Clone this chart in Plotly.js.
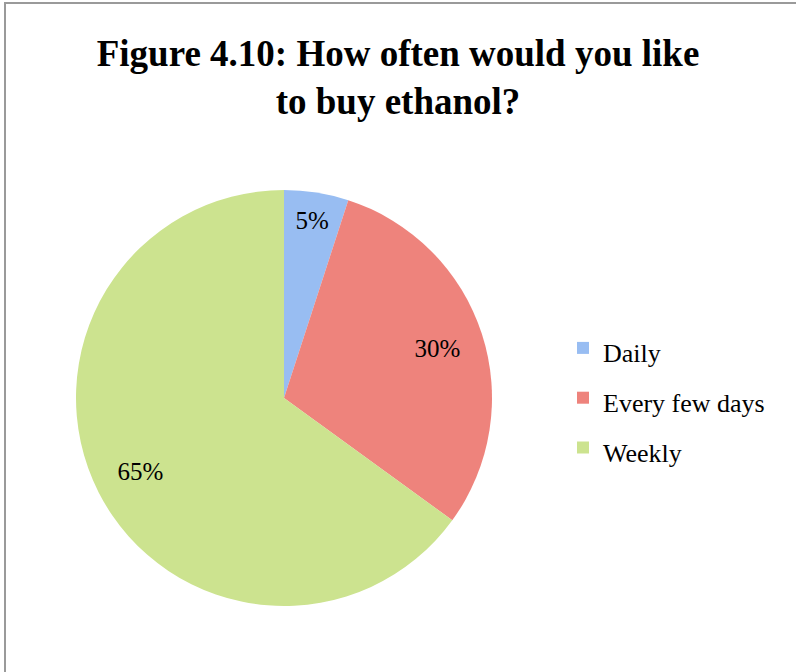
<!DOCTYPE html>
<html>
<head>
<meta charset="utf-8">
<script src="https://cdn.plot.ly/plotly-3.0.1.min.js"></script>
<style>
  html, body { margin: 0; padding: 0; background: #ffffff; }
  #frame { position: absolute; left: 4px; top: 2px; width: 800px; height: 680px;
           border-left: 2px solid #9a9a9a; border-top: 2px solid #9a9a9a; box-sizing: border-box; }
  #chart { position: absolute; left: 0; top: 0; width: 796px; height: 672px; }
</style>
</head>
<body>
<div id="frame"></div>
<div id="chart"></div>
<script>
const titleText = "Figure 4.10: How often would you like<br>to buy ethanol?";
const categories = ["Daily", "Every few days", "Weekly"];
const values = [5, 30, 65];
const sliceColors = ["#98bdf2", "#ee837c", "#cce38f"];

const serif = "Liberation Serif";
const legendLabels = categories.map(c => '<span style="font-size:26px">' + c + '</span>');
const pieDomain = { x: [76/796, 492/796], y: [1 - 606/672, 1 - 190/672] };

const pieTrace = {
  type: "pie",
  labels: legendLabels,
  values: values,
  sort: false,
  direction: "clockwise",
  rotation: 0,
  marker: { colors: sliceColors, line: { width: 0 } },
  textinfo: "none",
  hoverinfo: "none",
  domain: pieDomain
};

// transparent ring on the same data, used only to place the percent labels near the rim
const labelTrace = {
  type: "pie",
  labels: legendLabels,
  values: values,
  sort: false,
  direction: "clockwise",
  rotation: 0,
  hole: 0.55,
  showlegend: false,
  marker: { colors: ["rgba(0,0,0,0)", "rgba(0,0,0,0)", "rgba(0,0,0,0)"], line: { width: 0 } },
  texttemplate: "%{value}%",
  textposition: "inside",
  insidetextorientation: "horizontal",
  textfont: { family: serif, size: 25, color: "#000000" },
  hoverinfo: "none",
  domain: pieDomain
};

const layout = {
  width: 796, height: 672,
  margin: { l: 0, r: 0, t: 0, b: 0 },
  paper_bgcolor: "rgba(0,0,0,0)",
  plot_bgcolor: "rgba(0,0,0,0)",
  font: { family: serif, color: "#000000" },
  title: {
    text: titleText,
    font: { family: serif, size: 37, color: "#000000", weight: "bold" },
    x: 0.5, xanchor: "center", y: 1 - 66/672, yanchor: "top", yref: "container"
  },
  showlegend: true,
  legend: {
    x: 563/796, xanchor: "left", y: 1 - 398/672, yanchor: "middle",
    font: { family: serif, size: 36, color: "#000000" },
    itemwidth: 30, bgcolor: "rgba(0,0,0,0)"
  }
};

Plotly.newPlot("chart", [pieTrace, labelTrace], layout, { displayModeBar: false, staticPlot: true });
</script>
</body>
</html>
